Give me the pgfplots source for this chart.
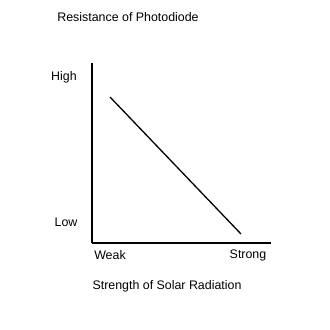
\documentclass[border=0pt]{standalone}
\usepackage{pgfplots}
\pgfplotsset{compat=1.18}
\usepackage{fontspec}
\setmainfont{Liberation Sans}
\begin{document}
\begin{tikzpicture}[x=1bp,y=1bp,every node/.style={font=\fontsize{12.4bp}{15bp}\selectfont,inner sep=0pt}]
\path[use as bounding box] (0,0) rectangle (330,330);
\begin{axis}[
  at={(92,87)}, anchor=south west,
  scale only axis, width=179bp, height=180bp,
  xmin=0, xmax=179, ymin=0, ymax=180,
  axis x line=bottom, axis y line=left,
  axis line style={line width=1.3bp,-},
  ticks=none,
  clip=false,
]
\addplot[black, line width=1.3bp] coordinates {(18,146) (149,9)};
\end{axis}
\node at (128,313) {Resistance of Photodiode};
\node at (64,253) {High};
\node at (66,108) {Low};
\node at (110,75) {Weak};
\node at (248,75) {Strong};
\node at (167,44) {Strength of Solar Radiation};
\end{tikzpicture}
\end{document}
